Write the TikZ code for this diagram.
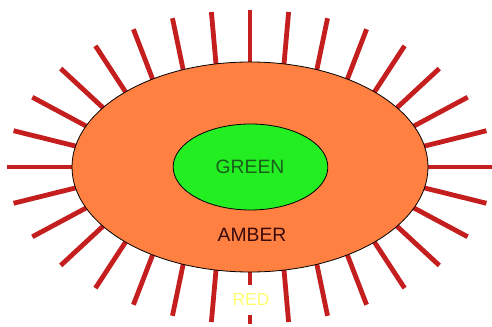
\documentclass[tikz,border=0pt]{standalone}
\usepackage{fontspec}
\setmainfont{Liberation Sans}
\usepackage{xcolor}
\usepackage{tikz}
\usetikzlibrary{calc}
\definecolor{amberfill}{HTML}{FF8040}
\definecolor{greenfill}{HTML}{22EE22}
\definecolor{raycolor}{HTML}{C41E1E}
\definecolor{greentext}{HTML}{1A5E1A}
\definecolor{ambertext}{HTML}{3A0A0A}
\definecolor{redtext}{HTML}{FFFF70}
\tikzset{
  ray/.style={line width=3.6pt,raycolor},
  zone/.style={draw=black,line width=0.6pt},
  zonelabel/.style={font=\fontsize{14.5}{16}\selectfont,inner sep=1pt}
}

\begin{document}
\begin{tikzpicture}[x=0.75pt,y=-0.75pt]
  \useasboundingbox[fill=white] (0,0) rectangle (492,327);
  % rays round the amber zone
  \foreach \t in {0,11.25,...,349}{
    \draw[ray] ({250+172*cos(\t)},{167+100*sin(\t)}) --
      ({250+243*cos(\t+5.5*sin(2*\t))},{167+157*sin(\t+5.5*sin(2*\t))});
  }
  \fill[amberfill,zone] (250,167) ellipse [x radius=133.5pt,y radius=78.75pt];
  \fill[greenfill,zone] (250.5,167) ellipse [x radius=58pt,y radius=32.25pt];
  \node[zonelabel,text=greentext] (green) at (250,167) {GREEN};
  \node[zonelabel,text=ambertext] (amber) at (252,235) {AMBER};
  \node[zonelabel,text=redtext,fill=white,minimum height=23pt,minimum width=30pt,
        font=\fontsize{13}{15}\selectfont] (red) at (251,300) {RED};
\end{tikzpicture}
\end{document}
